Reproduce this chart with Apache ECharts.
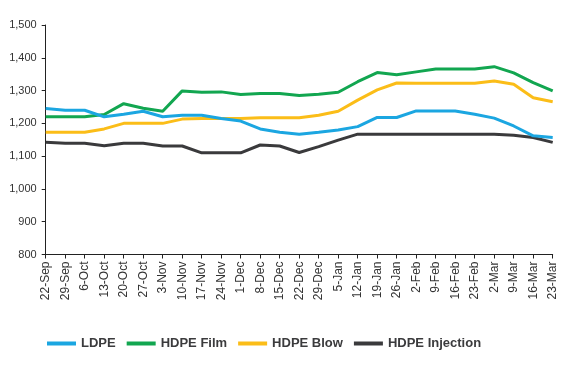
<!DOCTYPE html>
<html><head><meta charset="utf-8">
<script src="https://cdn.jsdelivr.net/npm/echarts@6/dist/echarts.min.js"></script>
<style>html,body{margin:0;padding:0;background:#fff}#c{width:576px;height:372px}</style>
</head><body><div id="c"></div>
<script>
const categories = ['22-Sep','29-Sep','6-Oct','13-Oct','20-Oct','27-Oct','3-Nov','10-Nov','17-Nov','24-Nov','1-Dec','8-Dec','15-Dec','22-Dec','29-Dec','5-Jan','12-Jan','19-Jan','26-Jan','2-Feb','9-Feb','16-Feb','23-Feb','2-Mar','9-Mar','16-Mar','23-Mar'];
const ldpe = [1245,1240,1240,1220,1228,1237,1220,1225,1225,1215,1207,1183,1173,1167,1173,1180,1190,1218,1218,1238,1238,1238,1228,1216,1192,1162,1157];
const hdpeFilm = [1220,1220,1220,1227,1260,1246,1237,1299,1295,1296,1288,1291,1291,1285,1289,1295,1327,1355,1348,1357,1366,1366,1366,1373,1354,1324,1299];
const hdpeBlow = [1173,1173,1173,1183,1200,1200,1200,1213,1215,1215,1215,1217,1217,1217,1225,1237,1271,1302,1323,1322,1322,1322,1322,1329,1319,1278,1266];
const hdpeInj = [1142,1139,1139,1132,1139,1139,1131,1131,1110,1110,1110,1134,1131,1111,1129,1149,1167,1167,1167,1167,1167,1167,1167,1167,1164,1157,1142];
const yTicks = {min: 800, max: 1500, interval: 100};

const colors = ['#1ba6e1', '#12a650', '#fbbd18', '#3a3a3c'];
const names = ['LDPE', 'HDPE Film', 'HDPE Blow', 'HDPE Injection'];
const datas = [ldpe, hdpeFilm, hdpeBlow, hdpeInj];

const chart = echarts.init(document.getElementById('c'), null, {renderer: 'canvas'});
chart.setOption({
  animation: false,
  color: colors,
  grid: {left: 45.7, right: 23.3, top: 25, bottom: 117.5, containLabel: false},
  legend: {
    left: 42, top: 332, itemWidth: 29, itemHeight: 4, itemGap: 11, icon: 'rect',
    textStyle: {fontFamily: 'Liberation Sans, Arial, sans-serif', fontWeight: 'bold', fontSize: 13, color: '#3b3b3d'},
    data: names
  },
  xAxis: {
    type: 'category', data: categories, boundaryGap: false,
    axisLine: {lineStyle: {color: '#222', width: 1}},
    axisTick: {show: true, alignWithLabel: true, length: 4, lineStyle: {color: '#222'}},
    axisLabel: {rotate: 90, interval: 0, margin: 7, fontFamily: 'Liberation Sans, Arial, sans-serif', fontSize: 12, color: '#333'},
    splitLine: {show: false}
  },
  yAxis: {
    type: 'value', min: yTicks.min, max: yTicks.max, interval: yTicks.interval,
    axisLine: {show: true, lineStyle: {color: '#222', width: 1}},
    axisTick: {show: true, length: 4, lineStyle: {color: '#222'}},
    axisLabel: {margin: 9, fontFamily: 'Liberation Sans, Arial, sans-serif', fontSize: 11, color: '#333',
      formatter: v => v.toLocaleString('en-US')},
    splitLine: {show: false}
  },
  series: names.map((n, i) => ({
    name: n, type: 'line', data: datas[i], symbol: 'none', smooth: false,
    lineStyle: {width: 3, color: colors[i]}, z: 10 - i
  }))
});
</script></body></html>
